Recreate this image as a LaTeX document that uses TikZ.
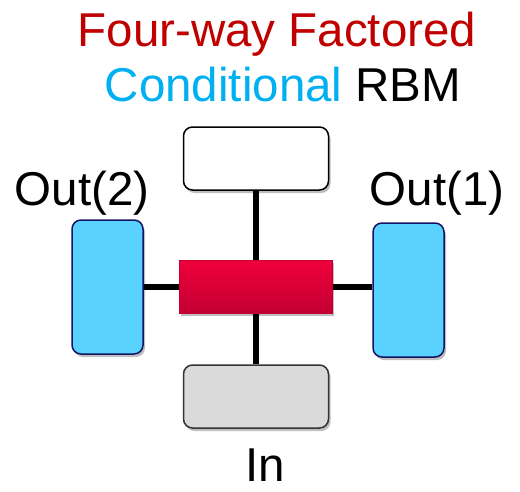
\documentclass[tikz,border=0pt]{standalone}
\usepackage{fontspec}
\setmainfont{Liberation Sans}
\usetikzlibrary{shadows}
\definecolor{titlered}{RGB}{192,0,0}
\definecolor{cyantxt}{RGB}{0,176,240}
\definecolor{outfill}{RGB}{90,210,255}
\definecolor{outedge}{RGB}{20,20,100}
\definecolor{redtop}{RGB}{240,0,60}
\definecolor{redbot}{RGB}{195,0,50}
\definecolor{grayfill}{RGB}{218,218,218}
\begin{document}
\begin{tikzpicture}[x=1pt,y=-1pt,
  lbl/.style={font=\fontsize{47.5}{52}\selectfont, inner sep=0pt, anchor=base},
  boxshadow/.style={drop shadow={shadow xshift=2pt, shadow yshift=-3pt, fill=black, opacity=0.25}},
  unitbox/.style={draw=black, line width=1.5pt, rounded corners=9pt, minimum width=145pt, minimum height=63pt, inner sep=0pt, boxshadow},
  outbox/.style={draw=outedge, line width=1.5pt, fill=outfill, rounded corners=9pt, minimum width=71pt, minimum height=134pt, inner sep=0pt, boxshadow},
  conn/.style={line width=5.5pt, black}]
\useasboundingbox (0,0) rectangle (520,491);
\node[lbl, text=titlered] (t1) at (277,46) {Four-way Factored};
\node[lbl] (t2) at (283,101) {\textcolor{cyantxt}{Conditional} RBM};
\node[unitbox, fill=white] (top) at (256,158.5) {};
\node[unitbox, fill=grayfill, draw=black!80] (bot) at (256,396.5) {};
\node[outbox] (left) at (107.5,287) {};
\node[outbox] (right) at (408.5,290) {};
\draw[conn] (top.south) -- (bot.north);
\draw[conn] (left.east) -- (left.east -| right.west);
\node[draw=redtop!80!black, line width=0.8pt, top color=redtop, bottom color=redbot, minimum width=153pt, minimum height=53pt, inner sep=0pt, boxshadow] (core) at (255.5,286.5) {};
\node[lbl] (o2) at (82,205) {Out(2)};
\node[lbl] (o1) at (437,205) {Out(1)};
\node[lbl] (in) at (265,481) {In};
\end{tikzpicture}
\end{document}
